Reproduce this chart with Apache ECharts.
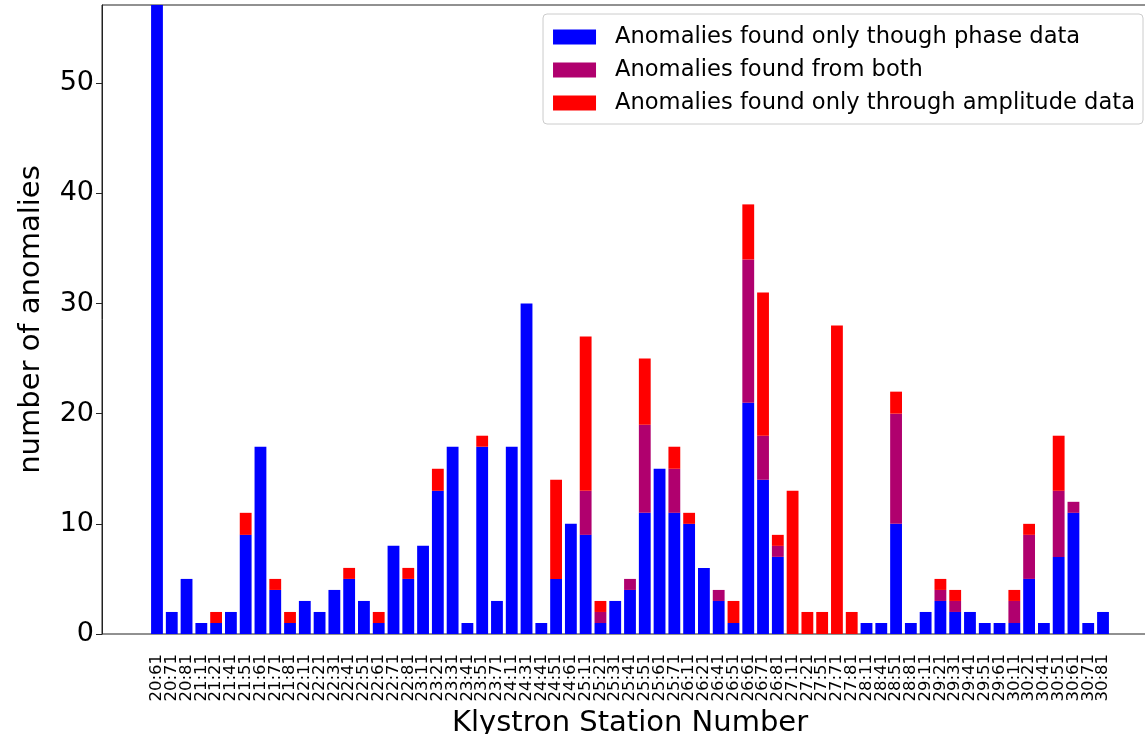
<!DOCTYPE html>
<html>
<head>
<meta charset="utf-8">
<script src="https://cdn.jsdelivr.net/npm/echarts@6/dist/echarts.min.js"></script>
<style>
  html, body { margin: 0; padding: 0; background: #fff; }
  #chart { width: 1145px; height: 734px; }
</style>
</head>
<body>
<div id="chart"></div>
<script>
const stations = [
  "20:61", "20:71", "20:81", "21:11", "21:21", "21:41", "21:51", "21:61", "21:71", "21:81",
  "22:11", "22:21", "22:31", "22:41", "22:51", "22:61", "22:71", "22:81", "23:11", "23:21",
  "23:31", "23:41", "23:51", "23:71", "24:11", "24:31", "24:41", "24:51", "24:61", "25:11",
  "25:21", "25:31", "25:41", "25:51", "25:61", "25:71", "26:11", "26:21", "26:41", "26:51",
  "26:61", "26:71", "26:81", "27:11", "27:21", "27:51", "27:71", "27:81", "28:11", "28:41",
  "28:51", "28:81", "29:11", "29:21", "29:31", "29:41", "29:51", "29:61", "30:11", "30:21",
  "30:41", "30:51", "30:61", "30:71", "30:81"
];

// first bar runs off the top of the plot
const phaseOnly = [
  58, 2, 5, 1, 1, 2, 9, 17, 4, 1,
  3, 2, 4, 5, 3, 1, 8, 5, 8, 13,
  17, 1, 17, 3, 17, 30, 1, 5, 10, 9,
  1, 3, 4, 11, 15, 11, 10, 6, 3, 1,
  21, 14, 7, 0, 0, 0, 0, 0, 1, 1,
  10, 1, 2, 3, 2, 2, 1, 1, 1, 5,
  1, 7, 11, 1, 2
];

const both = [
  0, 0, 0, 0, 0, 0, 0, 0, 0, 0,
  0, 0, 0, 0, 0, 0, 0, 0, 0, 0,
  0, 0, 0, 0, 0, 0, 0, 0, 0, 4,
  1, 0, 1, 8, 0, 4, 0, 0, 1, 0,
  13, 4, 1, 0, 0, 0, 0, 0, 0, 0,
  10, 0, 0, 1, 1, 0, 0, 0, 2, 4,
  0, 6, 1, 0, 0
];

const amplitudeOnly = [
  0, 0, 0, 0, 1, 0, 2, 0, 1, 1,
  0, 0, 0, 1, 0, 1, 0, 1, 0, 2,
  0, 0, 1, 0, 0, 0, 0, 9, 0, 14,
  1, 0, 0, 6, 0, 2, 1, 0, 0, 2,
  5, 13, 1, 13, 2, 2, 28, 2, 0, 0,
  2, 0, 0, 1, 1, 0, 0, 0, 1, 1,
  0, 5, 0, 0, 0
];

const yTicks = [0, 10, 20, 30, 40, 50];
const yMax = 57.1;

const chart = echarts.init(document.getElementById("chart"));
const font = "DejaVu Sans";

// plot frame spans wider than the bar grid (matplotlib margins), right side runs off the image
const option = {
  animation: false,
  textStyle: { fontFamily: font },
  grid: [
    {
      left: 102, top: 5, width: 1060, height: 629,
      outerBoundsMode: "none",
      show: true, borderColor: "#222", borderWidth: 1
    },
    { left: 149.6, top: 5, width: 960.8, height: 629, outerBoundsMode: "none" }
  ],
  legend: {
    orient: "vertical",
    right: 2,
    top: 14,
    padding: [10, 8, 8, 10],
    itemGap: 7,
    itemWidth: 43,
    itemHeight: 15,
    icon: "rect",
    backgroundColor: "#fff",
    borderColor: "#ccc",
    borderWidth: 1,
    borderRadius: 4,
    textStyle: {
      fontFamily: font,
      fontSize: 22.6,
      lineHeight: 26,
      color: "#000",
      padding: [0, 0, 0, 14]
    },
    data: [
      "Anomalies found only though phase data",
      "Anomalies found from both",
      "Anomalies found only through amplitude data"
    ]
  },
  xAxis: [
    { gridIndex: 0, type: "value", min: 0, max: 1, show: false },
    {
      gridIndex: 1,
      type: "category",
      data: stations,
      axisLine: { show: false },
      axisTick: {
        alignWithLabel: true,
        length: 6,
        lineStyle: { color: "#222" }
      },
      axisLabel: {
        interval: 0,
        rotate: 90,
        fontSize: 16.5,
        color: "#000",
        margin: 20
      },
      name: "Klystron Station Number",
      nameLocation: "middle",
      nameGap: 72,
      nameTextStyle: { fontSize: 29, color: "#000" }
    }
  ],
  yAxis: [
    {
      gridIndex: 0,
      type: "value",
      min: 0,
      max: yMax,
      axisLine: { show: true, lineStyle: { color: "#222" } },
      axisTick: {
        show: true,
        length: 6,
        customValues: yTicks,
        lineStyle: { color: "#222" }
      },
      axisLabel: {
        customValues: yTicks,
        fontSize: 27,
        color: "#000",
        margin: 8
      },
      splitLine: { show: false },
      name: "number of anomalies",
      nameLocation: "middle",
      nameRotate: 90,
      nameGap: 56,
      nameTextStyle: { fontSize: 29, color: "#000" }
    },
    { gridIndex: 1, type: "value", min: 0, max: yMax, show: false }
  ],
  series: [
    {
      name: "Anomalies found only though phase data",
      type: "bar",
      stack: "total",
      xAxisIndex: 1,
      yAxisIndex: 1,
      barWidth: "80%",
      itemStyle: { color: "#0000ff" },
      data: phaseOnly
    },
    {
      name: "Anomalies found from both",
      type: "bar",
      stack: "total",
      xAxisIndex: 1,
      yAxisIndex: 1,
      barWidth: "80%",
      itemStyle: { color: "#b0006e" },
      data: both
    },
    {
      name: "Anomalies found only through amplitude data",
      type: "bar",
      stack: "total",
      xAxisIndex: 1,
      yAxisIndex: 1,
      barWidth: "80%",
      itemStyle: { color: "#ff0000" },
      data: amplitudeOnly
    }
  ]
};

chart.setOption(option);
</script>
</body>
</html>
